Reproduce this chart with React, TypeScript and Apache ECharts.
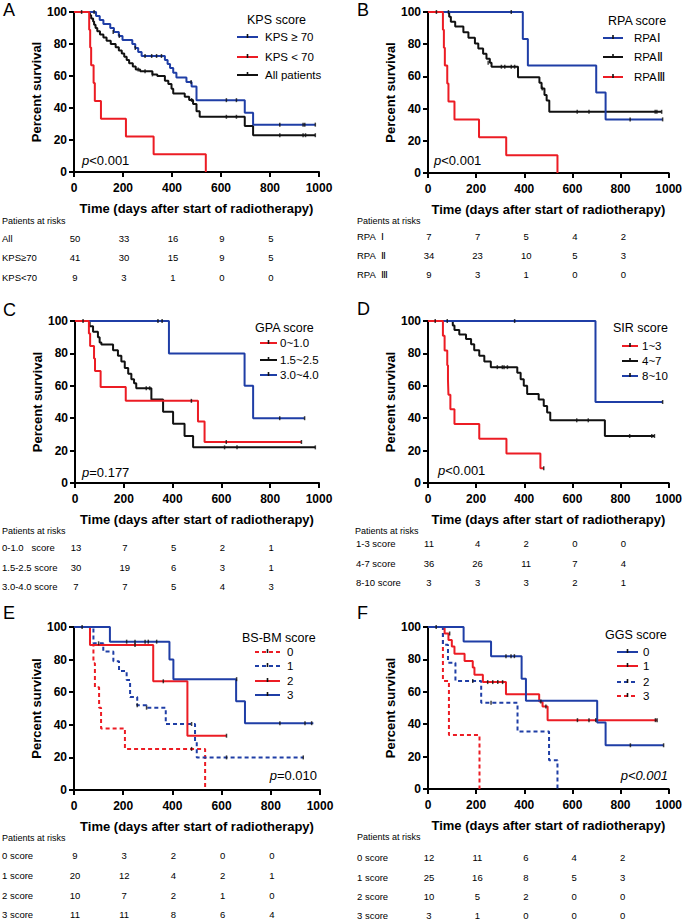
import React, { useEffect, useRef } from "react";
import * as echarts from "echarts";

const BLUE = "#1f3ea6";
const RED = "#ec1c24";
const BLACK = "#111111";
const FONT = "'Liberation Sans', Arial, Helvetica, sans-serif";

// ---------- Panel A (KPS) ----------
const kpsHigh = [[0,100],[90,97.5],[105,95],[120,92.5],[148,90],[163,87.5],[183,85],[198,82.5],[238,80],[250,77.5],[262,75],[276,72.5],[371,70],[382,67.5],[392,65],[405,62],[418,59],[459,56.2],[480,53.4],[500,44.9],[697,37],[731,29.6],[985,29.6]];
const kpsHighCens = [[82,100],[160,87.5],[185,85],[250,77.5],[290,72.5],[317,72.5],[337,72.5],[357,72.5],[478,56.2],[622,44.9],[663,44.9],[840,29.6],[935,29.6],[942,29.6],[985,29.6]];
const kpsLow = [[0,100],[62,88.9],[66,77.8],[70,66.7],[80,55.6],[85,44.4],[110,33.3],[212,22.2],[325,11.1],[538,0]];
const kpsLowCens: number[][] = [];
const kpsAll = [[0,100],[65,98],[70,96],[78,94],[82,92],[88,90],[95,88],[106,86],[120,84],[133,82],[150,80],[170,78],[183,76],[195,74],[205,72],[215,70],[225,68],[240,66],[252,64],[270,63],[320,61],[340,60],[371,57],[385,55],[398,52],[405,49],[452,47],[470,45],[486,42.5],[500,38],[513,34.5],[697,28.7],[731,23],[985,23]];
const kpsAllCens = [[31,100],[262,64],[290,63],[320,61],[480,45],[622,34.5],[663,34.5],[840,23],[935,23],[945,23],[985,23]];

// ---------- Panel B (RPA) ----------
const rpa1 = [[0,100],[394,83.3],[415,66.7],[699,50],[738,33.3],[975,33.3]];
const rpa1Cens = [[35,100],[346,100],[840,33.3],[975,33.3]];
const rpa2 = [[0,100],[88,97],[95,94],[113,91],[147,87.5],[168,84],[195,80.5],[209,77.3],[229,74],[243,71],[257,68.5],[264,66],[374,59.5],[463,56],[472,52.5],[484,48.5],[493,45],[504,38],[971,38]];
const rpa2Cens = [[85,100],[250,68.5],[305,66],[319,66],[346,66],[360,66],[475,52.5],[620,38],[669,38],[944,38],[951,38],[971,38]];
const rpa3 = [[0,100],[62,88.9],[66,77.8],[70,66.7],[80,55.6],[85,44.4],[110,33.3],[212,22.2],[325,11.1],[538,0]];
const rpa3Cens: number[][] = [];

// ---------- Panel C (GPA) ----------
const gpaLow = [[0,100],[57,92.3],[62,84.6],[78,76.9],[82,69.2],[105,59.2],[208,50.7],[504,38],[531,25.3],[928,25.3]];
const gpaLowCens = [[477,50.7],[620,25.3],[928,25.3]];
const gpaMid = [[0,100],[60,96.7],[74,93.3],[94,90],[101,86.7],[108,85.5],[156,82],[176,78.5],[190,75],[204,71],[218,67.5],[231,64],[242,61.5],[251,58.5],[313,51.5],[361,44],[402,36.5],[449,29],[484,22],[985,22]];
const gpaMidCens = [[33,100],[292,58.5],[306,58.5],[613,22],[664,22],[985,22]];
const gpaHigh = [[0,100],[385,80],[695,60],[730,40],[941,40]];
const gpaHighCens = [[340,100],[357,100],[839,40],[941,40]];

// ---------- Panel D (SIR) ----------
const sirLow = [[0,100],[62,90.9],[69,81.8],[80,72.7],[83,63.6],[85,54.5],[93,45.5],[110,36.4],[213,27.3],[326,18.2],[467,9.1],[481,9.1]];
const sirLowCens = [[481,9.1]];
const sirMid = [[0,100],[103,97.2],[110,94.4],[130,91.7],[158,88.9],[179,85.6],[192,82],[213,78.5],[234,75],[261,71.5],[371,68],[385,64],[398,60],[412,55],[460,51.5],[481,47.5],[495,43.5],[508,38.7],[735,29],[941,29]];
const sirMidCens = [[30,100],[80,100],[288,71.5],[309,71.5],[316,71.5],[330,71.5],[618,38.7],[666,38.7],[838,29],[930,29],[941,29]];
const sirHigh = [[0,100],[696,50],[975,50]];
const sirHighCens = [[360,100],[975,50]];

// ---------- Panel E (BS-BM) ----------
const bsbm0 = [[0,100],[65,88.9],[79,77.8],[85,63],[102,50.5],[110,37.8],[207,25.2],[533,0]];
const bsbm0Cens = [[478,25.2]];
const bsbm1 = [[0,100],[79,90],[119,85],[160,79],[183,73],[214,67.5],[228,57],[257,52],[295,50.5],[373,40.5],[492,30],[499,20],[932,20]];
const bsbm1Cens = [[100,90],[257,52],[295,50.5],[478,40.5],[620,20],[932,20]];
const bsbm2 = [[0,100],[65,88.9],[322,66.7],[461,33.3],[620,33.3]];
const bsbm2Cens = [[248,88.9],[363,66.7],[620,33.3]];
const bsbm3 = [[0,100],[146,91],[388,80],[404,68],[659,54.5],[695,41],[973,41]];
const bsbm3Cens = [[33,100],[214,91],[248,91],[289,91],[302,91],[336,91],[661,68],[837,41],[939,41],[966,41]];

// ---------- Panel F (GGS) ----------
const ggs0 = [[0,100],[148,91],[262,82],[389,68],[407,54.5],[703,41],[738,27],[979,27]];
const ggs0Cens = [[34,100],[324,82],[345,82],[359,82],[841,27],[979,27]];
const ggs1 = [[0,100],[69,96],[85,92],[99,88],[110,83.5],[152,79],[186,75],[193,70.5],[228,66],[324,58.5],[462,54],[476,51],[497,42.5],[952,42.5]];
const ggs1Cens = [[90,96],[248,66],[269,66],[290,66],[310,66],[469,54],[490,51],[621,42.5],[669,42.5],[697,42.5],[945,42.5],[952,42.5]];
const ggs2 = [[0,100],[62,89],[83,78],[114,66.7],[221,53.3],[372,35.5],[503,17.8],[538,0]];
const ggs2Cens = [[186,66.7],[262,53.3]];
const ggs3 = [[0,100],[62,66.7],[87,33.3],[214,0]];
const ggs3Cens: number[][] = [];

// ---------- Risk tables ----------
const riskTimes = [0, 200, 400, 600, 800];
const riskA_labels = ["All", "KPS≥70", "KPS<70"];
const riskA_all = [50, 33, 16, 9, 5];
const riskA_high = [41, 30, 15, 9, 5];
const riskA_low = [9, 3, 1, 0, 0];
const riskB_labels = ["RPA  Ⅰ", "RPA  Ⅱ", "RPA  Ⅲ"];
const riskB_1 = [7, 7, 5, 4, 2];
const riskB_2 = [34, 23, 10, 5, 3];
const riskB_3 = [9, 3, 1, 0, 0];
const riskC_labels = ["0-1.0   score", "1.5-2.5 score", "3.0-4.0 score"];
const riskC_low = [13, 7, 5, 2, 1];
const riskC_mid = [30, 19, 6, 3, 1];
const riskC_high = [7, 7, 5, 4, 3];
const riskD_labels = ["1-3 score", "4-7 score", "8-10 score"];
const riskD_low = [11, 4, 2, 0, 0];
const riskD_mid = [36, 26, 11, 7, 4];
const riskD_high = [3, 3, 3, 2, 1];
const riskE_labels = ["0 score", "1 score", "2 score", "3 score"];
const riskE_0 = [9, 3, 2, 0, 0];
const riskE_1 = [20, 12, 4, 2, 1];
const riskE_2 = [10, 7, 2, 1, 0];
const riskE_3 = [11, 11, 8, 6, 4];
const riskF_labels = ["0 score", "1 score", "2 score", "3 score"];
const riskF_0 = [12, 11, 6, 4, 2];
const riskF_1 = [25, 16, 8, 5, 3];
const riskF_2 = [10, 5, 2, 0, 0];
const riskF_3 = [3, 1, 0, 0, 0];

const xTitle = "Time (days after start of radiotherapy)";
const yTitle = "Percent survival";

type Curve = { name: string; color: string; dashed?: boolean; steps: number[][]; cens: number[][] };
type Panel = {
  letter: string; lx: number; ly: number;
  grid: { left: number; top: number; width: number; height: number };
  legendTitle: string; ltX: number; ltY: number; lx1: number; lx2: number; ltx: number; lys: number[];
  pX: number; pY: number; pAlign: string; pAllItalic?: boolean;
  curves: Curve[]; drawOrder: number[];
  tHeadX: number; tHeadY: number; tLabelX: number; tYs: number[]; tLabels: string[]; tRows: number[][];
};

const panels: Panel[] = [
  {
    letter: "A", lx: 3, ly: 1,
    grid: { left: 74, top: 12, width: 245, height: 160 },
    legendTitle: "KPS score", ltX: 247, ltY: 20, lx1: 237, lx2: 258, ltx: 265, lys: [37, 57, 75],
    pX: 82, pY: 160, pAlign: "left",
    curves: [
      { name: "KPS ≥ 70", color: BLUE, steps: kpsHigh, cens: kpsHighCens },
      { name: "KPS < 70", color: RED, steps: kpsLow, cens: kpsLowCens },
      { name: "All patients", color: BLACK, steps: kpsAll, cens: kpsAllCens },
    ], drawOrder: [2, 0, 1],
    tHeadX: 2, tHeadY: 221, tLabelX: 2, tYs: [238, 257, 277], tLabels: riskA_labels, tRows: [riskA_all, riskA_high, riskA_low],
  },
  {
    letter: "B", lx: 357, ly: 1,
    grid: { left: 428, top: 12, width: 243, height: 161 },
    legendTitle: "RPA score", ltX: 608, ltY: 21, lx1: 603, lx2: 623, ltx: 634, lys: [38, 57, 77],
    pX: 434, pY: 160, pAlign: "left",
    curves: [
      { name: "RPAⅠ", color: BLUE, steps: rpa1, cens: rpa1Cens },
      { name: "RPAⅡ", color: BLACK, steps: rpa2, cens: rpa2Cens },
      { name: "RPAⅢ", color: RED, steps: rpa3, cens: rpa3Cens },
    ], drawOrder: [1, 0, 2],
    tHeadX: 357, tHeadY: 221, tLabelX: 357, tYs: [236, 255, 274], tLabels: riskB_labels, tRows: [riskB_1, riskB_2, riskB_3],
  },
  {
    letter: "C", lx: 3, ly: 301,
    grid: { left: 75, top: 321, width: 244, height: 162 },
    legendTitle: "GPA score", ltX: 255, ltY: 328, lx1: 260, lx2: 277, ltx: 280, lys: [343, 360, 375],
    pX: 82, pY: 472, pAlign: "left",
    curves: [
      { name: "0~1.0", color: RED, steps: gpaLow, cens: gpaLowCens },
      { name: "1.5~2.5", color: BLACK, steps: gpaMid, cens: gpaMidCens },
      { name: "3.0~4.0", color: BLUE, steps: gpaHigh, cens: gpaHighCens },
    ], drawOrder: [1, 2, 0],
    tHeadX: 2, tHeadY: 531, tLabelX: 2, tYs: [547, 567, 586], tLabels: riskC_labels, tRows: [riskC_low, riskC_mid, riskC_high],
  },
  {
    letter: "D", lx: 357, ly: 300,
    grid: { left: 428, top: 321, width: 243, height: 162 },
    legendTitle: "SIR score", ltX: 613, ltY: 328, lx1: 622, lx2: 638, ltx: 642, lys: [346, 361, 376],
    pX: 438, pY: 470, pAlign: "left",
    curves: [
      { name: "1~3", color: RED, steps: sirLow, cens: sirLowCens },
      { name: "4~7", color: BLACK, steps: sirMid, cens: sirMidCens },
      { name: "8~10", color: BLUE, steps: sirHigh, cens: sirHighCens },
    ], drawOrder: [1, 2, 0],
    tHeadX: 355, tHeadY: 531, tLabelX: 356, tYs: [543, 563, 582], tLabels: riskD_labels, tRows: [riskD_low, riskD_mid, riskD_high],
  },
  {
    letter: "E", lx: 3, ly: 604,
    grid: { left: 74, top: 627, width: 246, height: 163 },
    legendTitle: "BS-BM score", ltX: 242, ltY: 638, lx1: 255, lx2: 280, ltx: 287, lys: [652, 666, 681, 695],
    pX: 317, pY: 775, pAlign: "right",
    curves: [
      { name: "0", color: RED, dashed: true, steps: bsbm0, cens: bsbm0Cens },
      { name: "1", color: BLUE, dashed: true, steps: bsbm1, cens: bsbm1Cens },
      { name: "2", color: RED, steps: bsbm2, cens: bsbm2Cens },
      { name: "3", color: BLUE, steps: bsbm3, cens: bsbm3Cens },
    ], drawOrder: [0, 1, 2, 3],
    tHeadX: 2, tHeadY: 838, tLabelX: 2, tYs: [855, 875, 895, 914], tLabels: riskE_labels, tRows: [riskE_0, riskE_1, riskE_2, riskE_3],
  },
  {
    letter: "F", lx: 357, ly: 604,
    grid: { left: 428, top: 627, width: 242, height: 162 },
    legendTitle: "GGS score", ltX: 605, ltY: 635, lx1: 617, lx2: 638, ltx: 643, lys: [652, 666, 682, 696],
    pX: 668, pY: 775, pAlign: "right", pAllItalic: true,
    curves: [
      { name: "0", color: BLUE, steps: ggs0, cens: ggs0Cens },
      { name: "1", color: RED, steps: ggs1, cens: ggs1Cens },
      { name: "2", color: BLUE, dashed: true, steps: ggs2, cens: ggs2Cens },
      { name: "3", color: RED, dashed: true, steps: ggs3, cens: ggs3Cens },
    ], drawOrder: [3, 2, 1, 0],
    tHeadX: 357, tHeadY: 837, tLabelX: 357, tYs: [857, 877, 896, 915], tLabels: riskF_labels, tRows: [riskF_0, riskF_1, riskF_2, riskF_3],
  },
];
const pValues = ["<0.001", "<0.001", "=0.177", "<0.001", "=0.010", "<0.001"];

function txt(x: number, y: number, text: string, opts: any = {}) {
  const align = opts.align || "left";
  const valign = opts.valign || "middle";
  return {
    type: "text", x, y, silent: true,
    style: {
      text, fill: "#000",
      fontSize: opts.size || 10, fontWeight: opts.weight || "normal",
      fontStyle: opts.style || "normal", fontFamily: FONT,
      textAlign: align, textVerticalAlign: valign, align, verticalAlign: valign,
      rich: opts.rich,
    },
  };
}

function buildOption() {
  const grids: any[] = [];
  const xAxes: any[] = [];
  const yAxes: any[] = [];
  const series: any[] = [];
  const graphics: any[] = [];

  panels.forEach((p, i) => {
    grids.push({ ...p.grid, containLabel: false });
    xAxes.push({
      type: "value", gridIndex: i, min: 0, max: 1000, interval: 200,
      axisLine: { onZero: false, lineStyle: { color: "#000", width: 2 } },
      axisTick: { length: 5, lineStyle: { color: "#000", width: 2 } },
      axisLabel: {
        color: "#000", fontWeight: "bold", fontSize: 12, margin: 10, fontFamily: FONT,
        formatter: (v: number) => String(v),
      },
      splitLine: { show: false },
      name: xTitle, nameLocation: "middle", nameGap: 30,
      nameTextStyle: { color: "#000", fontWeight: "bold", fontSize: 13, fontFamily: FONT },
    });
    yAxes.push({
      type: "value", gridIndex: i, min: 0, max: 100, interval: 20,
      axisLine: { onZero: false, lineStyle: { color: "#000", width: 2 } },
      axisTick: { length: 5, lineStyle: { color: "#000", width: 2 } },
      axisLabel: {
        color: "#000", fontWeight: "bold", fontSize: 12, margin: 7, fontFamily: FONT,
        formatter: (v: number) => String(v),
      },
      splitLine: { show: false },
      name: yTitle, nameLocation: "middle", nameGap: 30, nameRotate: 90,
      nameTextStyle: { color: "#000", fontWeight: "bold", fontSize: 13, fontFamily: FONT },
    });

    p.drawOrder.forEach((ci, k) => {
      const c = p.curves[ci];
      series.push({
        type: "line", name: `${p.letter}-${c.name}`, xAxisIndex: i, yAxisIndex: i,
        data: c.steps, step: "end", symbol: "none", silent: true, z: 3 + k * 0.01,
        lineStyle: { color: c.color, width: 2, type: c.dashed ? [4, 3] : "solid" },
      });
    });
    p.curves.forEach((c) => {
      series.push({
        type: "scatter", xAxisIndex: i, yAxisIndex: i, data: c.cens, silent: true,
        symbol: "rect", symbolSize: [1.5, 4], itemStyle: { color: "#111" }, z: 5,
      });
    });

    graphics.push(txt(p.lx, p.ly, p.letter, { size: 18, valign: "top" }));
    graphics.push(txt(p.ltX, p.ltY, p.legendTitle, { size: 12.5 }));
    p.curves.forEach((c, k) => {
      const y = p.lys[k];
      graphics.push({
        type: "line", silent: true,
        shape: { x1: p.lx1, y1: y, x2: p.lx2, y2: y },
        style: { stroke: c.color, lineWidth: 2, lineDash: c.dashed ? [4, 3] : null },
      });
      graphics.push({
        type: "rect", silent: true,
        shape: { x: (p.lx1 + p.lx2) / 2 - 0.8, y: y - 3, width: 1.6, height: 4 },
        style: { fill: "#111" },
      });
      graphics.push(txt(p.ltx, y, c.name, { size: 11.5 }));
    });
    const pv = pValues[i];
    graphics.push(txt(p.pX, p.pY, `{i|p}{n|${pv}}`, {
      size: 13, align: p.pAlign,
      rich: {
        i: { fontStyle: "italic", fontSize: 13, fontFamily: FONT, fill: "#000" },
        n: { fontStyle: p.pAllItalic ? "italic" : "normal", fontSize: 13, fontFamily: FONT, fill: "#000" },
      },
    }));
    graphics.push(txt(p.tHeadX, p.tHeadY, "Patients at risks", { size: 9 }));
    p.tRows.forEach((row, r) => {
      const y = p.tYs[r];
      graphics.push(txt(p.tLabelX, y, p.tLabels[r], { size: 9.5 }));
      row.forEach((v, j) => {
        const x = p.grid.left + (riskTimes[j] / 1000) * p.grid.width + 1;
        graphics.push(txt(x, y, String(v), { size: 9.5, align: "center" }));
      });
    });
  });

  return {
    animation: false,
    backgroundColor: "#ffffff",
    textStyle: { fontFamily: FONT },
    grid: grids, xAxis: xAxes, yAxis: yAxes, series,
    graphic: { elements: graphics },
  };
}

export default function App() {
  const ref = useRef<HTMLDivElement>(null);
  useEffect(() => {
    document.body.style.margin = "0";
    if (!ref.current) return;
    const chart = echarts.init(ref.current, null, { renderer: "svg" });
    chart.setOption(buildOption() as any);
    return () => chart.dispose();
  }, []);
  return <div ref={ref} style={{ width: 685, height: 919, background: "#fff" }} />;
}
